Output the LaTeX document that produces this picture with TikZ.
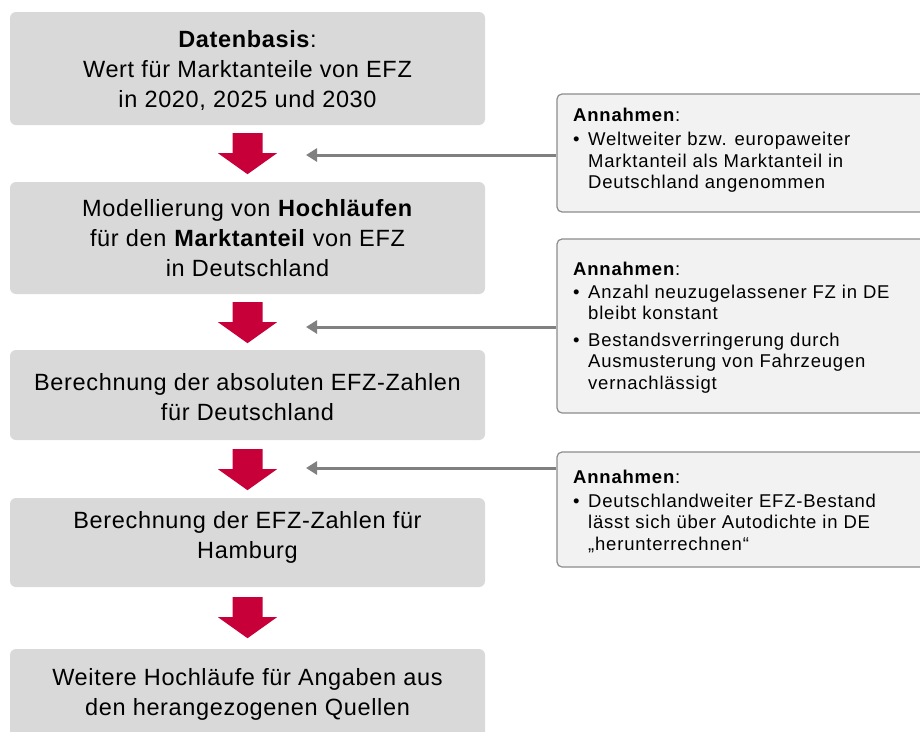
\documentclass[tikz,border=0pt]{standalone}
\usepackage{fontspec}
\setmainfont{Liberation Sans}
\newfontfamily\leftfont[LetterSpace=2.8]{Liberation Sans}
\newfontfamily\notefont[LetterSpace=4.3]{Liberation Sans}
\usetikzlibrary{arrows.meta,calc}
\definecolor{boxgray}{HTML}{D9D9D9}
\definecolor{notefill}{HTML}{F2F2F2}
\definecolor{noteline}{HTML}{8C8C8C}
\definecolor{arrowred}{RGB}{200,0,58}
\definecolor{conngray}{HTML}{808080}
\newcommand\notebul{\makebox[15pt][l]{•}}
\newcommand\noteind{\hspace*{15pt}}
\begin{document}
\begin{tikzpicture}[x=1pt,y=-1pt,
  stepbox/.style={fill=boxgray, rounded corners=6pt, minimum width=475pt, inner sep=0pt},
  steptext/.style={align=center, anchor=north, inner sep=0pt, font=\leftfont\fontsize{23.5}{30}\selectfont},
  notebox/.style={fill=notefill, draw=noteline, line width=1.2pt, rounded corners=5pt, inner sep=0pt, minimum width=373pt},
  notetext/.style={align=left, anchor=north west, inner sep=0pt, font=\notefont\fontsize{18.5}{21.5}\selectfont},
  conn/.style={draw=conngray, line width=3pt, -{Triangle[length=11pt,width=13pt]}},
  downarrow/.pic={\fill[arrowred] (-15,0) -- (15,0) -- (15,20) -- (29.5,20) -- (0,41) -- (-29.5,20) -- (-15,20) -- cycle;}
]
\useasboundingbox (0,0) rectangle (920,731);
\clip (0,0) rectangle (920,731);

% left process boxes
\node[stepbox, minimum height=113pt] (b1) at (247.5,68.5) {};
\node[stepbox, minimum height=112pt] (b2) at (247.5,238) {};
\node[stepbox, minimum height=90pt]  (b3) at (247.5,395) {};
\node[stepbox, minimum height=89pt]  (b4) at (247.5,542.5) {};
\node[stepbox, minimum height=110pt] (b5) at (247.5,704) {};

\node[steptext] (b1t) at (247.5,47-18) {\rule{0pt}{18pt}\textbf{Datenbasis}:\\ Wert für Marktanteile von EFZ\\ in 2020, 2025 und 2030};
\node[steptext] (b2t) at (247.5,216.7-18) {\rule{0pt}{18pt}Modellierung von \textbf{Hochläufen}\\ für den \textbf{Marktanteil} von EFZ\\ in Deutschland};
\node[steptext] (b3t) at (247.5,390-18) {\rule{0pt}{18pt}Berechnung der absoluten EFZ-Zahlen\\ für Deutschland};
\node[steptext] (b4t) at (247.5,528-18) {\rule{0pt}{18pt}Berechnung der EFZ-Zahlen für\\ Hamburg};
\node[steptext] (b5t) at (247.5,685-18) {\rule{0pt}{18pt}Weitere Hochläufe für Angaben aus\\ den herangezogenen Quellen};

% red flow arrows
\pic at ($(b1.south)+(0,8)$) {downarrow};
\pic at ($(b2.south)+(0,8)$) {downarrow};
\pic at ($(b3.south)+(0,9)$) {downarrow};
\pic at ($(b4.south)+(0,10)$) {downarrow};

% assumption boxes
\node[notebox, minimum height=118pt] (rA) at (743.5,153) {};
\node[notebox, minimum height=174pt] (rB) at (743.5,326) {};
\node[notebox, minimum height=115pt] (rC) at (743.5,509.5) {};

\node[notetext] (tA) at (573,121-14) {\rule{0pt}{14pt}\textbf{Annahmen}:\\[3pt]
  \notebul Weltweiter bzw. europaweiter\\
  \noteind Marktanteil als Marktanteil in\\
  \noteind Deutschland angenommen};
\node[notetext] (tB) at (573,275-14) {\rule{0pt}{14pt}\textbf{Annahmen}:\\[1.5pt]
  \notebul Anzahl neuzugelassener FZ in DE\\
  \noteind bleibt konstant\\[5pt]
  \notebul Bestandsverringerung durch\\
  \noteind Ausmusterung von Fahrzeugen\\
  \noteind vernachlässigt};
\node[notetext] (tC) at (573,483-14) {\rule{0pt}{14pt}\textbf{Annahmen}:\\[2.5pt]
  \notebul Deutschlandweiter EFZ-Bestand\\
  \noteind lässt sich über Autodichte in DE\\
  \noteind „herunterrechnen“};

% gray connectors
\coordinate (tip1) at (306,155);
\coordinate (tip2) at (306,327);
\coordinate (tip3) at (306,468);
\draw[conn] (rA.west |- tip1) -- (tip1);
\draw[conn] (rB.west |- tip2) -- (tip2);
\draw[conn] (rC.west |- tip3) -- (tip3);
\end{tikzpicture}
\end{document}
